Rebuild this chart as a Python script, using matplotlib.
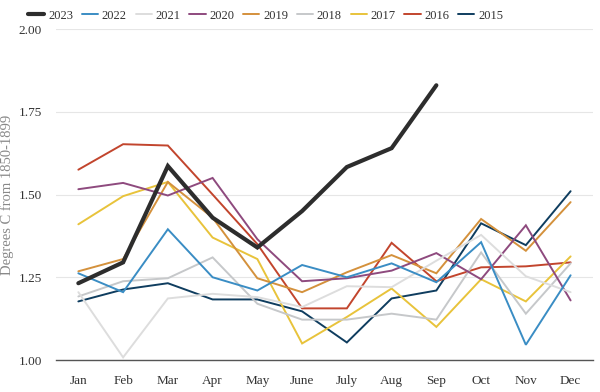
import matplotlib
matplotlib.use("Agg")
import matplotlib.pyplot as plt

months = ["Jan", "Feb", "Mar", "Apr", "May", "June", "July", "Aug", "Sep", "Oct", "Nov", "Dec"]

y2023 = [1.232, 1.295, 1.586, 1.43, 1.34, 1.45, 1.583, 1.64, 1.83]
y2022 = [1.262, 1.205, 1.395, 1.25, 1.21, 1.287, 1.25, 1.292, 1.235, 1.356, 1.046, 1.256]
y2021 = [1.205, 1.008, 1.186, 1.20, 1.19, 1.16, 1.223, 1.22, 1.30, 1.378, 1.253, 1.205]
y2020 = [1.516, 1.535, 1.497, 1.55, 1.365, 1.238, 1.247, 1.27, 1.323, 1.244, 1.407, 1.18]
y2019 = [1.268, 1.305, 1.538, 1.43, 1.247, 1.205, 1.265, 1.317, 1.262, 1.426, 1.33, 1.477]
y2018 = [1.192, 1.238, 1.247, 1.31, 1.17, 1.122, 1.122, 1.14, 1.122, 1.325, 1.14, 1.292]
y2017 = [1.41, 1.495, 1.538, 1.37, 1.305, 1.05, 1.13, 1.216, 1.10, 1.244, 1.177, 1.313]
y2016 = [1.575, 1.652, 1.648, 1.50, 1.35, 1.156, 1.156, 1.354, 1.238, 1.28, 1.283, 1.295]
y2015 = [1.177, 1.213, 1.232, 1.183, 1.183, 1.147, 1.053, 1.186, 1.21, 1.413, 1.347, 1.51]

series = [
    ("2023", y2023, "#2d2d2d", 3.0),
    ("2022", y2022, "#3a8dc4", 1.4),
    ("2021", y2021, "#dddddd", 1.4),
    ("2020", y2020, "#8e4a7e", 1.4),
    ("2019", y2019, "#d4913c", 1.4),
    ("2018", y2018, "#c6c8ca", 1.4),
    ("2017", y2017, "#e8c33b", 1.4),
    ("2016", y2016, "#c2452d", 1.4),
    ("2015", y2015, "#0f3d5f", 1.4),
]

plt.rcParams["font.family"] = ["Liberation Serif", "DejaVu Serif"]

fig = plt.figure(figsize=(6, 3.92), dpi=100)
ax = fig.add_axes([0.0933, 0.0816, 0.895, 0.8444])

for i, (name, vals, color, lw) in enumerate(series):
    z = 10 if name == "2023" else 9 - i
    ax.plot(range(len(vals)), vals, color=color, lw=lw, label=name,
            zorder=z, solid_capstyle="round", solid_joinstyle="miter")

ax.set_xlim(-0.5, 11.5)
ax.set_ylim(1.0, 2.0)
ax.set_xticks(range(12))
ax.set_xticklabels(months)
ax.set_yticks([1.0, 1.25, 1.5, 1.75, 2.0])
ax.set_yticklabels(["1.00", "1.25", "1.50", "1.75", "2.00"])
ax.tick_params(axis="both", length=0, labelsize=9.5, colors="#333333")
ax.tick_params(axis="x", pad=11)
ax.tick_params(axis="y", pad=10)
ax.grid(axis="y", color="#e6e6e6", lw=0.8)
ax.set_axisbelow(True)
for s in ["top", "right", "left"]:
    ax.spines[s].set_visible(False)
ax.spines["bottom"].set_color("#555555")
ax.spines["bottom"].set_linewidth(1.0)
ax.spines["bottom"].set_zorder(20)

ax.set_ylabel("Degrees C from 1850-1899", fontsize=10.5, color="#888888")
ax.yaxis.set_label_coords(-0.079, 0.5)

leg = fig.legend(loc="upper left", bbox_to_anchor=(0.028, 1.004), ncol=9, frameon=False,
                 fontsize=9, handlelength=1.3, handletextpad=0.3, columnspacing=0.7)
for t in leg.get_texts():
    t.set_color("#333333")

fig.savefig("out.png", dpi=100)
